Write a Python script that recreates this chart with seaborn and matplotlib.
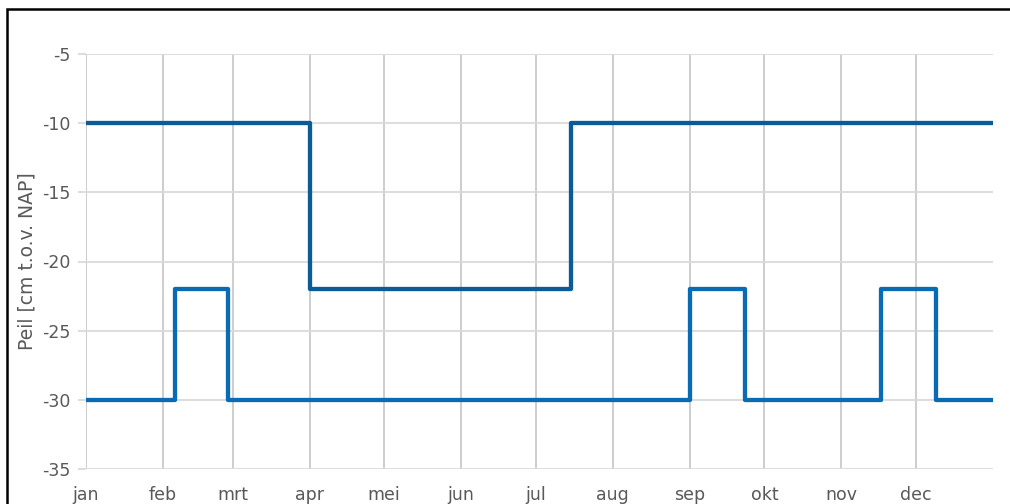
import matplotlib
matplotlib.use("Agg")
import matplotlib.pyplot as plt
import matplotlib.patches as mpatches
import pandas as pd
import seaborn as sns

# ── data ─────────────────────────────────────────────────────────────────────
TOP_DATES = ["2021-01-01", "2021-04-01", "2021-07-15", "2022-01-01"]
TOP_LEVELS = [-10, -22, -10, -10]

BOTTOM_DATES = ["2021-01-01", "2021-02-06", "2021-02-27", "2021-09-01",
                "2021-09-23", "2021-11-17", "2021-12-09", "2022-01-01"]
BOTTOM_LEVELS = [-30, -22, -30, -22, -30, -22, -30, -30]

MONTH_LABELS = ["jan", "feb", "mrt", "apr", "mei", "jun",
                "jul", "aug", "sep", "okt", "nov", "dec"]
Y_TICKS = [-35, -30, -25, -20, -15, -10, -5]

# ── style ────────────────────────────────────────────────────────────────────
sns.set_theme(style="white")
plt.rcParams["font.family"] = ["DejaVu Sans"]

TEXT_COLOR = "#595959"
TOP_COLOR = "#0B5B96"
BOTTOM_COLOR = "#0A6BB5"

df_top = pd.DataFrame({"datum": pd.to_datetime(TOP_DATES), "peil": TOP_LEVELS})
df_bot = pd.DataFrame({"datum": pd.to_datetime(BOTTOM_DATES), "peil": BOTTOM_LEVELS})

fig = plt.figure(figsize=(10.1, 5.04), dpi=100)
W, H = 1010, 504
ax = fig.add_axes([86 / W, 1 - 469 / H, (993 - 86) / W, (469 - 54) / H])

sns.lineplot(data=df_top, x="datum", y="peil", ax=ax, color=TOP_COLOR,
             linewidth=3.1, drawstyle="steps-post", zorder=3)
sns.lineplot(data=df_bot, x="datum", y="peil", ax=ax, color=BOTTOM_COLOR,
             linewidth=3.1, drawstyle="steps-post", zorder=3)

# assen
month_starts = pd.date_range("2021-01-01", periods=12, freq="MS")
ax.set_xlim(pd.Timestamp("2021-01-01"), pd.Timestamp("2022-01-01"))
ax.set_ylim(-35, -5)
ax.set_xticks(month_starts)
ax.set_xticklabels(MONTH_LABELS)
ax.set_yticks(Y_TICKS)
ax.set_yticklabels([str(v) for v in Y_TICKS])

ax.grid(axis="y", color="#DADADA", linewidth=1.3, zorder=0)
ax.grid(axis="x", color="#C9C9C9", linewidth=1.3, zorder=0)
for side in ax.spines.values():
    side.set_visible(False)

ax.tick_params(axis="y", left=True, length=6, width=1.3, color="#DADADA",
               labelsize=12.5, labelcolor=TEXT_COLOR, pad=5)
ax.tick_params(axis="x", bottom=False, labelsize=12.5, labelcolor=TEXT_COLOR, pad=6)

ax.set_xlabel("")
ax.set_ylabel("Peil [cm t.o.v. NAP]", color=TEXT_COLOR, fontsize=13.5, labelpad=4)

# zwarte kader (rechts en onder afgesneden)
frame = mpatches.Rectangle((7 / W, -0.1), 1.2, 1 - 9 / H + 0.1,
                           transform=fig.transFigure, fill=False,
                           edgecolor="black", linewidth=1.8)
fig.patches.append(frame)

fig.savefig("out.png", dpi=100)
